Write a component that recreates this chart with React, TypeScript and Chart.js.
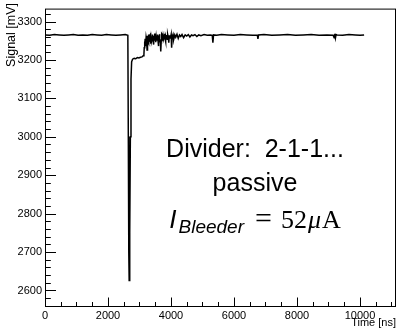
import React, { useEffect, useRef } from 'react';
import { Chart, registerables } from 'chart.js';

Chart.register(...registerables);

// ---- data ----
const timeNs = [
  0, 150, 300, 450, 600, 750, 900, 1050, 1200, 1350,
  1500, 1650, 1800, 1950, 2100, 2250, 2400, 2550, 2630, 2645,
  2660, 2672, 2690, 2710, 2730, 2750, 2780, 2830, 2880, 2930,
  2980, 3030, 3080, 3120,
  3140, 3150, 3160, 3170, 3180, 3190, 3200, 3210, 3220, 3230,
  3240, 3250, 3260, 3270, 3280, 3290, 3300, 3310, 3320, 3330,
  3340, 3350, 3360, 3370, 3380, 3390, 3400, 3410, 3420, 3430,
  3440, 3450, 3460, 3470, 3480, 3490, 3500, 3510, 3520, 3530,
  3540, 3550, 3560, 3570, 3580, 3590, 3600, 3610, 3620, 3630,
  3640, 3650, 3660, 3670, 3680, 3690, 3700, 3710, 3720, 3730,
  3740, 3750, 3760, 3770, 3780, 3790, 3800, 3810, 3820, 3830,
  3840, 3850, 3860, 3870, 3880, 3890, 3900, 3915, 3930, 3945,
  3960, 3975, 3990, 4005, 4020, 4035, 4050, 4065, 4080, 4095,
  4120, 4150, 4190, 4230, 4270, 4310, 4350, 4400, 4450, 4500,
  4550, 4600, 4650, 4700, 4760, 4820, 4880, 4950, 5050, 5150,
  5250, 5310, 5330, 5350, 5450, 5600, 5800, 6000, 6200, 6400,
  6600, 6740, 6760, 6780, 6950, 7200, 7450, 7700, 7950, 8200,
  8450, 8700, 8950, 9150, 9180, 9200, 9220, 9240, 9270, 9450,
  9650, 9850, 10000, 10130,
];

const signalMv = [
  3265, 3264, 3266, 3265, 3264, 3265, 3266, 3264, 3265, 3264,
  3266, 3265, 3264, 3266, 3265, 3264, 3265, 3266, 3264, 3000,
  2700, 2626, 2750, 3000, 3150, 3195, 3202, 3204, 3203, 3206,
  3205, 3207, 3208, 3211,
  3213, 3232, 3248, 3238, 3255, 3244, 3236, 3258, 3250, 3262,
  3226, 3255, 3263, 3248, 3244, 3260, 3266, 3252, 3250, 3264,
  3266, 3255, 3242, 3258, 3261, 3249, 3254, 3266, 3265, 3251,
  3240, 3259, 3263, 3252, 3256, 3267, 3267, 3254, 3246, 3260,
  3262, 3250, 3258, 3266, 3264, 3248, 3236, 3257, 3261, 3267,
  3266, 3253, 3252, 3238, 3222, 3250, 3263, 3268, 3266, 3255,
  3250, 3262, 3264, 3254, 3258, 3268, 3267, 3256, 3248, 3260,
  3263, 3258, 3265, 3262, 3254, 3263, 3266, 3258, 3245, 3262,
  3264, 3257, 3260, 3266, 3232, 3255, 3262, 3266, 3260, 3254,
  3265, 3259, 3267, 3256, 3265, 3261, 3266, 3258, 3265, 3262,
  3266, 3260, 3265, 3263, 3266, 3261, 3265, 3263, 3266, 3264,
  3265, 3264, 3245, 3265, 3264, 3266, 3265, 3264, 3266, 3265,
  3264, 3265, 3255, 3265, 3266, 3264, 3265, 3266, 3264, 3265,
  3266, 3264, 3265, 3264, 3258, 3268, 3257, 3266, 3265, 3264,
  3266, 3265, 3264, 3265,
];

const xTickValues = [0, 2000, 4000, 6000, 8000, 10000];
const yTickValues = [2600, 2700, 2800, 2900, 3000, 3100, 3200, 3300];
const xMinorStep = 500;
const yMinorStep = 20;
const xRange = [0, 11143];
const yRange = [2557, 3331];

const xTitle = 'Time [ns]';
const yTitle = 'Signal [mV]';
const noteLines = ['Divider:  2-1-1...', 'passive'];
const bleederSymbol = 'I';
const bleederSub = 'Bleeder';
const bleederValue = '52';
const bleederUnitPrefix = 'μ';
const bleederUnit = 'A';

const SANS = '"Liberation Sans", Arial, sans-serif';
const SERIF = '"Liberation Serif", "Times New Roman", serif';

const rootStylePlugin = {
  id: 'rootStyle',
  afterDraw(chart: any) {
    const ctx: CanvasRenderingContext2D = chart.ctx;
    const a = chart.chartArea;
    const xs = chart.scales.x;
    const ys = chart.scales.y;
    ctx.save();

    // frame
    ctx.strokeStyle = '#000';
    ctx.lineWidth = 1;
    ctx.strokeRect(a.left + 0.5, a.top - 0.5, a.right - a.left - 1, a.bottom - a.top);

    // x ticks (inside)
    ctx.beginPath();
    const xb = a.bottom - 0.5;
    for (let v = xs.min; v <= xs.max + 1e-6; v += xMinorStep) {
      const px = Math.round(xs.getPixelForValue(v)) + 0.5;
      const major = xTickValues.includes(v);
      ctx.moveTo(px, xb);
      ctx.lineTo(px, xb - (major ? 9 : 4.5));
    }
    // y ticks (inside)
    const yl = a.left + 0.5;
    const yStart = Math.ceil(ys.min / yMinorStep) * yMinorStep;
    for (let v = yStart; v <= ys.max + 1e-6; v += yMinorStep) {
      const py = Math.round(ys.getPixelForValue(v)) + 0.5;
      const major = yTickValues.includes(v);
      ctx.moveTo(yl, py);
      ctx.lineTo(yl + (major ? 10.5 : 5.3), py);
    }
    ctx.stroke();

    // axis titles
    ctx.fillStyle = '#000';
    ctx.font = `11px ${SANS}`;
    ctx.textAlign = 'right';
    ctx.textBaseline = 'middle';
    ctx.fillText(xTitle, 396, 323);

    ctx.save();
    ctx.translate(12, 3);
    ctx.rotate(-Math.PI / 2);
    ctx.font = `12.5px ${SANS}`;
    ctx.textAlign = 'right';
    ctx.textBaseline = 'middle';
    ctx.fillText(yTitle, 0, 0);
    ctx.restore();

    // annotation
    const cx = 255;
    ctx.textAlign = 'center';
    ctx.textBaseline = 'alphabetic';
    ctx.font = `25px ${SANS}`;
    ctx.fillText(noteLines[0], cx, 157);
    ctx.fillText(noteLines[1], cx, 191);

    const base = 228;
    const pieces = [
      { t: bleederSymbol, f: `italic 26px ${SANS}`, dy: 0, gap: 2 },
      { t: bleederSub, f: `italic 19px ${SANS}`, dy: 5, gap: 11 },
      { t: '=', f: `30px ${SERIF}`, dy: 0, gap: 9 },
      { t: bleederValue, f: `26px ${SERIF}`, dy: 0, gap: 1 },
      { t: bleederUnitPrefix, f: `italic 26px ${SERIF}`, dy: 0, gap: 1 },
      { t: bleederUnit, f: `26px ${SERIF}`, dy: 0, gap: 0 },
    ];
    let total = 0;
    const widths = pieces.map((p) => {
      ctx.font = p.f;
      const w = ctx.measureText(p.t).width;
      total += w + p.gap;
      return w;
    });
    let x = cx - total / 2;
    ctx.textAlign = 'left';
    pieces.forEach((p, i) => {
      ctx.font = p.f;
      ctx.fillText(p.t, x, base + p.dy);
      x += widths[i] + p.gap;
    });

    ctx.restore();
  },
};

export default function App() {
  const ref = useRef<HTMLCanvasElement>(null);
  useEffect(() => {
    const tickFont = { family: SANS, size: 11 };
    const chart = new Chart(ref.current!, {
      type: 'line',
      data: {
        datasets: [
          {
            data: timeNs.map((t, i) => ({ x: t, y: signalMv[i] })),
            borderColor: '#000',
            borderWidth: 1.5,
            pointRadius: 0,
            tension: 0,
            fill: false,
          },
        ],
      },
      options: {
        animation: false,
        responsive: false,
        devicePixelRatio: 1,
        layout: { padding: { top: 7, right: 2, left: 0, bottom: 0 } },
        plugins: { legend: { display: false }, tooltip: { enabled: false } },
        scales: {
          x: {
            type: 'linear',
            min: xRange[0],
            max: xRange[1],
            afterBuildTicks: (s: any) => {
              s.ticks = xTickValues.map((v) => ({ value: v }));
            },
            afterFit: (s: any) => {
              s.height = 23;
            },
            grid: { display: false, drawTicks: false },
            border: { display: false },
            ticks: {
              padding: 2,
              font: tickFont,
              color: '#000',
              maxRotation: 0,
              autoSkip: false,
              callback: (v: any) => String(v),
            },
          },
          y: {
            type: 'linear',
            min: yRange[0],
            max: yRange[1],
            afterBuildTicks: (s: any) => {
              s.ticks = yTickValues.map((v) => ({ value: v }));
            },
            afterFit: (s: any) => {
              s.width = 45;
            },
            grid: { display: false, drawTicks: false },
            border: { display: false },
            ticks: {
              padding: 3,
              font: tickFont,
              color: '#000',
              autoSkip: false,
              callback: (v: any) => String(v),
            },
          },
        },
      },
      plugins: [rootStylePlugin],
    } as any);
    return () => chart.destroy();
  }, []);

  return (
    <div style={{ position: 'fixed', left: 0, top: 0, width: 398, height: 330, background: '#fff' }}>
      <canvas ref={ref} width={398} height={330} style={{ width: 398, height: 330, display: 'block' }} />
    </div>
  );
}
